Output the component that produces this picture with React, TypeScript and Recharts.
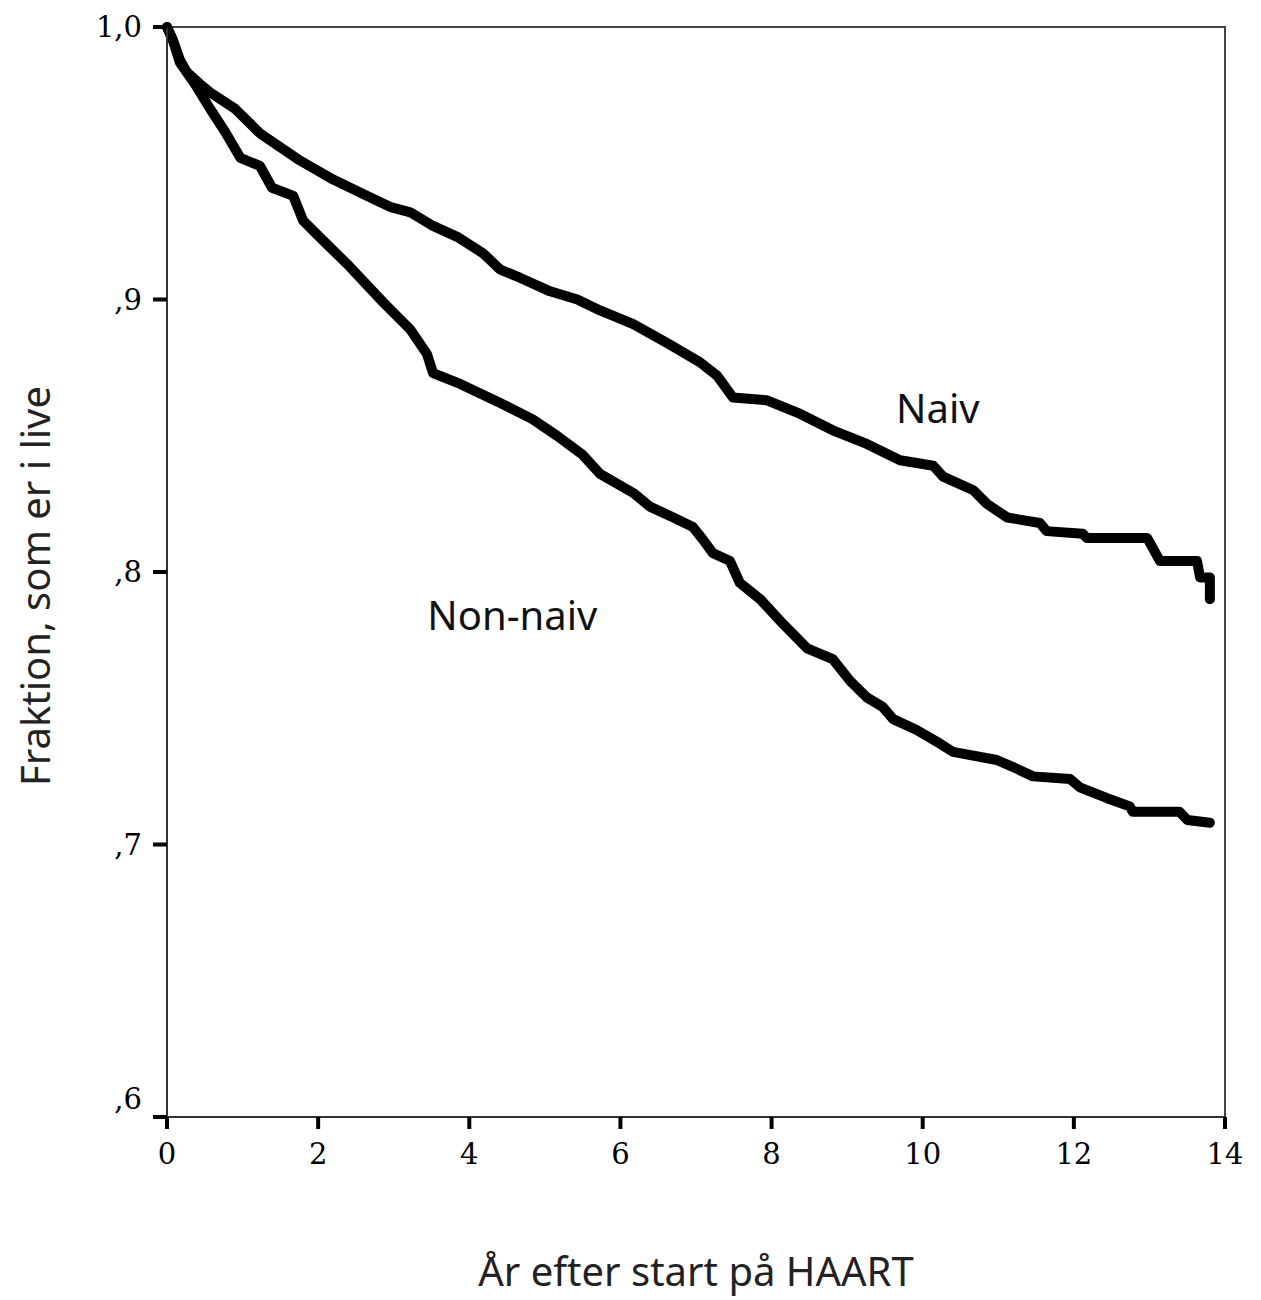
import React from 'react';
import { LineChart, Line, XAxis, YAxis, ReferenceArea, ReferenceDot, Label } from 'recharts';

// Kaplan-Meier kurver (år, fraktion i live)
const NAIV_T = [0, 0.08, 0.17, 0.26, 0.44, 0.57, 0.9, 1.23, 1.76, 2.2, 2.65, 2.95, 3.22, 3.52, 3.84, 4.18, 4.41, 4.67, 5.07, 5.43, 5.73, 6.17, 6.62, 7.05, 7.28, 7.49, 7.94, 8.38, 8.81, 9.26, 9.7, 10.14, 10.27, 10.67, 10.85, 11.12, 11.55, 11.64, 12.12, 12.17, 12.97, 13.14, 13.63, 13.67, 13.8, 13.8];
const NAIV_S = [1.0, 0.995, 0.988, 0.9835, 0.979, 0.976, 0.97, 0.961, 0.951, 0.944, 0.938, 0.934, 0.932, 0.927, 0.923, 0.917, 0.911, 0.908, 0.903, 0.9, 0.896, 0.891, 0.884, 0.877, 0.872, 0.864, 0.863, 0.858, 0.852, 0.847, 0.841, 0.839, 0.835, 0.83, 0.825, 0.82, 0.818, 0.815, 0.814, 0.8125, 0.8125, 0.804, 0.804, 0.798, 0.798, 0.79];

const NONNAIV_T = [0, 0.08, 0.17, 0.37, 0.57, 0.77, 0.97, 1.23, 1.39, 1.67, 1.8, 1.98, 2.42, 2.86, 3.22, 3.44, 3.52, 3.88, 4.41, 4.84, 5.16, 5.5, 5.73, 6.17, 6.39, 6.7, 6.96, 7.09, 7.22, 7.45, 7.58, 7.85, 8.15, 8.47, 8.81, 9.04, 9.26, 9.47, 9.61, 9.92, 10.23, 10.4, 10.98, 11.19, 11.46, 11.95, 12.08, 12.44, 12.74, 12.78, 13.4, 13.5, 13.8];
const NONNAIV_S = [1.0, 0.995, 0.987, 0.979, 0.97, 0.9615, 0.952, 0.949, 0.941, 0.938, 0.929, 0.924, 0.912, 0.899, 0.889, 0.88, 0.873, 0.869, 0.862, 0.856, 0.85, 0.843, 0.836, 0.829, 0.824, 0.82, 0.8165, 0.812, 0.807, 0.804, 0.796, 0.79, 0.781, 0.772, 0.768, 0.76, 0.754, 0.7505, 0.746, 0.742, 0.737, 0.734, 0.731, 0.7285, 0.725, 0.724, 0.721, 0.717, 0.714, 0.712, 0.712, 0.709, 0.708];

const X_TICKS = [0, 2, 4, 6, 8, 10, 12, 14];
const Y_TICKS = [0.6, 0.7, 0.8, 0.9, 1.0];
const Y_TICK_LABELS = [',6', ',7', ',8', ',9', '1,0'];

const naivData = NAIV_T.map((t, i) => ({ t, s: NAIV_S[i] }));
const nonNaivData = NONNAIV_T.map((t, i) => ({ t, s: NONNAIV_S[i] }));

const SANS = '"Noto Sans", "Open Sans", sans-serif';
const SERIF = '"DejaVu Serif", serif';

const X_TICK_SIZE = 12;
const X_TICK_MARGIN = 14;
const Y_TICK_SIZE = 14;
const Y_TICK_MARGIN = 11;

function XTick(props: any) {
  const { x, y, payload } = props;
  const top = y - X_TICK_MARGIN - X_TICK_SIZE;
  return (
    <g>
      <line x1={x} x2={x} y1={top} y2={top + X_TICK_SIZE} stroke="#000" strokeWidth={4} />
      <text x={x} y={y} dy="0.72em" textAnchor="middle" fontFamily={SERIF} fontSize={29} fill="#000">
        {payload.value}
      </text>
    </g>
  );
}

function YTick(props: any) {
  const { x, y, payload } = props;
  const idx = Y_TICKS.findIndex(v => Math.abs(v - payload.value) < 1e-6);
  const label = idx >= 0 ? Y_TICK_LABELS[idx] : '';
  const right = x + Y_TICK_MARGIN + Y_TICK_SIZE;
  // nederste label løftet lidt op, som i originalen
  const dy = payload.value < 0.65 ? -18 : 0;
  return (
    <g>
      <line x1={right - Y_TICK_SIZE} x2={right} y1={y} y2={y} stroke="#000" strokeWidth={4} />
      <text x={x} y={y + dy} textAnchor="end" dominantBaseline="central" fontFamily={SERIF} fontSize={29} fill="#000">
        {label}
      </text>
    </g>
  );
}

export default function App() {
  return (
    <div style={{ position: 'absolute', left: 0, top: 0, background: '#fff' }}>
      <LineChart width={1261} height={1300} margin={{ top: 27, right: 36, bottom: 0, left: 0 }}>
        <XAxis
          type="number"
          dataKey="t"
          domain={[0, 14]}
          ticks={X_TICKS}
          allowDuplicatedCategory={false}
          height={183}
          tickSize={X_TICK_SIZE}
          tickMargin={X_TICK_MARGIN}
          tickLine={{ stroke: '#000' }}
          axisLine={{ stroke: '#333', strokeWidth: 2 }}
          tick={<XTick />}
        >
          <Label
            content={(p: any) => {
              const vb = p.viewBox;
              return (
                <text x={vb.x + vb.width / 2} y={vb.y + vb.height - 14} textAnchor="middle" fontFamily={SANS} fontSize={40} fill="#222">
                  År efter start på HAART
                </text>
              );
            }}
          />
        </XAxis>
        <YAxis
          type="number"
          domain={[0.6, 1.0]}
          ticks={Y_TICKS}
          width={167}
          tickSize={Y_TICK_SIZE}
          tickMargin={Y_TICK_MARGIN}
          tickLine={{ stroke: '#000' }}
          axisLine={{ stroke: '#333', strokeWidth: 2 }}
          tick={<YTick />}
        >
          <Label
            content={(p: any) => {
              const vb = p.viewBox;
              const cx = vb.x + 50;
              const cy = vb.y + vb.height / 2 + 14;
              return (
                <text x={cx} y={cy} transform={`rotate(-90 ${cx} ${cy})`} textAnchor="middle" fontFamily={SANS} fontSize={40} fill="#222">
                  Fraktion, som er i live
                </text>
              );
            }}
          />
        </YAxis>
        <ReferenceArea x1={0} x2={14} y1={0.6} y2={1.0} fill="none" stroke="#444" strokeWidth={2} />
        <Line data={naivData} dataKey="s" type="linear" stroke="#000" strokeWidth={10} strokeLinejoin="round" strokeLinecap="round" dot={false} isAnimationActive={false} />
        <Line data={nonNaivData} dataKey="s" type="linear" stroke="#000" strokeWidth={10} strokeLinejoin="round" strokeLinecap="round" dot={false} isAnimationActive={false} />
        <ReferenceDot x={10.2} y={0.86} r={0} fill="none" stroke="none"
          label={{ value: 'Naiv', position: 'center', fontFamily: SANS, fontSize: 40, fill: '#111' }} />
        <ReferenceDot x={4.57} y={0.784} r={0} fill="none" stroke="none"
          label={{ value: 'Non-naiv', position: 'center', fontFamily: SANS, fontSize: 40, fill: '#111' }} />
      </LineChart>
    </div>
  );
}
